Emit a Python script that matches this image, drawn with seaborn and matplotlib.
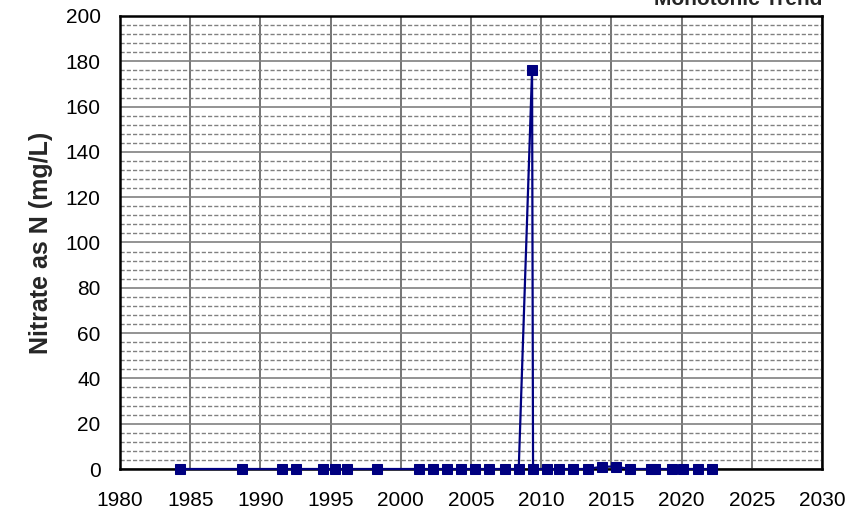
import numpy as np
import pandas as pd
import seaborn as sns
import matplotlib.pyplot as plt
from matplotlib.ticker import MultipleLocator

# sample dates (decimal years) and nitrate results
years = [1984.27, 1988.69, 1991.54, 1992.54, 1994.46, 1995.31, 1996.17, 1998.31,
         2001.30, 2002.29, 2003.29, 2004.3, 2005.3, 2006.3, 2007.4, 2008.4,
         2009.35, 2009.42, 2010.4, 2011.3, 2012.3, 2013.3, 2014.3, 2015.3,
         2016.3, 2017.85, 2018.1, 2019.3, 2020.1, 2021.2, 2022.2]
nitrate = [0, 0, 0, 0, 0, 0, 0, 0,
           0, 0, 0, 0, 0, 0, 0, 0,
           176, 0, 0, 0, 0, 0, 1.0, 1.1,
           0, 0, 0, 0, 0, 0, 0]

df = pd.DataFrame({'Year': years, 'Nitrate': nitrate})

sns.set_style('white')
plt.rcParams['font.family'] = ['Liberation Sans', 'DejaVu Sans']

fig = plt.figure(figsize=(8.63, 5.15), dpi=100)
ax = fig.add_axes([0.139, 0.0893, 0.8135, 0.8797])

#grid first so the line sits on top
ax.set_axisbelow(True)
ax.yaxis.set_major_locator(MultipleLocator(20))
ax.yaxis.set_minor_locator(MultipleLocator(4))
ax.xaxis.set_major_locator(MultipleLocator(5))
ax.grid(which='major', axis='y', color='#808080', linewidth=1.2, linestyle='-')
ax.grid(which='minor', axis='y', color='#808080', linewidth=1.0, linestyle=(0, (3, 1.5)))
ax.grid(which='major', axis='x', color='#505050', linewidth=1.1, linestyle='-')

sns.lineplot(data=df, x='Year', y='Nitrate', ax=ax, color='#000080', linewidth=1.6,
             marker='s', markersize=7, markeredgecolor='#000080', estimator=None, sort=False,
             clip_on=False, zorder=5)

ax.set_xlim(1980, 2030)
ax.set_ylim(0, 200)
ax.set_xlabel('')
ax.set_ylabel('Nitrate as N (mg/L)', fontsize=18, fontweight='bold', labelpad=9)
ax.tick_params(axis='both', which='both', length=0, labelsize=15, colors='black')
ax.tick_params(axis='y', pad=14)
ax.tick_params(axis='x', pad=16)
for s in ax.spines.values():
    s.set_color('black')
    s.set_linewidth(1.8)

fig.text(0.9525, 0.9903, 'Monotonic Trend', ha='right', va='baseline',
         fontsize=15, fontweight='bold')

plt.savefig('out.png', dpi=100)
